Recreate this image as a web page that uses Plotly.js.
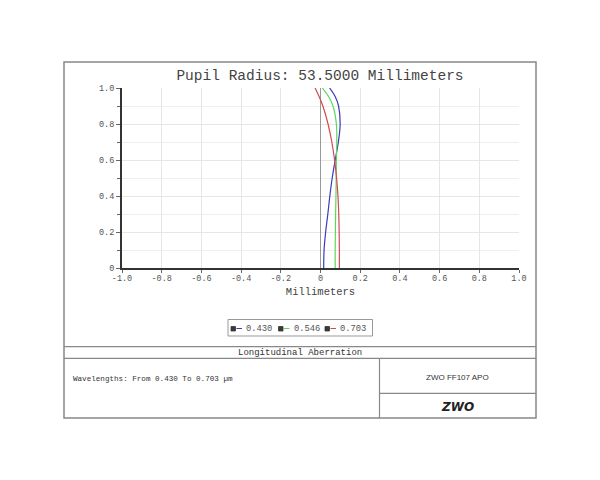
<!DOCTYPE html>
<html>
<head>
<meta charset="utf-8">
<script src="https://cdn.plot.ly/plotly-3.0.1.min.js"></script>
<style>html,body{margin:0;padding:0;background:#fff;}#chart{width:600px;height:480px;}</style>
</head>
<body>
<div id="chart"></div>
<script>
// Relative pupil height (y) and longitudinal aberration in mm (x) per wavelength
const pupil = [0, 0.1, 0.2, 0.3, 0.4, 0.5, 0.6, 0.7, 0.8, 0.9, 0.95, 1.0];
const ab430 = [0.016, 0.018, 0.026, 0.037, 0.047, 0.059, 0.074, 0.090, 0.099, 0.091, 0.075, 0.046];
const ab546 = [0.074, 0.074, 0.075, 0.076, 0.078, 0.079, 0.080, 0.082, 0.080, 0.063, 0.042, 0.009];
const ab703 = [0.095, 0.095, 0.094, 0.092, 0.088, 0.081, 0.071, 0.057, 0.038, 0.012, -0.006, -0.027];
const seriesNames = ['0.430', '0.546', '0.703'];
const seriesColors = ['#3a3ab8', '#5ed65e', '#d24a4a'];
const xTickVals = [-1, -0.8, -0.6, -0.4, -0.2, 0, 0.2, 0.4, 0.6, 0.8, 1.0];
const xTickText = ['-1.0', '-0.8', '-0.6', '-0.4', '-0.2', '0', '0.2', '0.4', '0.6', '0.8', '1.0'];
const yTickVals = [0, 0.2, 0.4, 0.6, 0.8, 1.0];
const yTickText = ['0', '0.2', '0.4', '0.6', '0.8', '1.0'];

const mono = 'Liberation Mono, Courier New, monospace';
const grey = '#555';
const W = 600, H = 480;
const px = v => v / W;
const py = v => 1 - v / H;

const allAb = [ab430, ab546, ab703];
const traces = allAb.map((ab, i) => ({
  x: ab, y: pupil, type: 'scatter', mode: 'lines',
  name: seriesNames[i], showlegend: false,
  line: {color: seriesColors[i], width: 1.2, shape: 'spline'}
}));

const shapes = [
  {type: 'rect', xref: 'paper', yref: 'paper', x0: px(64), x1: px(536), y0: py(418), y1: py(62), line: {color: '#888', width: 1.5}},
  {type: 'line', xref: 'paper', yref: 'paper', x0: px(64), x1: px(536), y0: py(346.7), y1: py(346.7), line: {color: '#888', width: 1.2}},
  {type: 'line', xref: 'paper', yref: 'paper', x0: px(64), x1: px(536), y0: py(358.3), y1: py(358.3), line: {color: '#888', width: 1.2}},
  {type: 'line', xref: 'paper', yref: 'paper', x0: px(379.5), x1: px(379.5), y0: py(358.3), y1: py(418), line: {color: '#888', width: 1.2}},
  {type: 'line', xref: 'paper', yref: 'paper', x0: px(379.5), x1: px(536), y0: py(393.3), y1: py(393.3), line: {color: '#888', width: 1.2}},
  // legend box
  {type: 'rect', xref: 'paper', yref: 'paper', x0: px(228), x1: px(372.5), y0: py(336), y1: py(319.5), line: {color: '#999', width: 1}}
];
const annotations = [
  {text: 'Longitudinal Aberration', xref: 'paper', yref: 'paper', x: px(300), y: py(352.5), xanchor: 'center', yanchor: 'middle', showarrow: false,
   font: {family: mono, size: 9, color: '#333'}},
  {text: 'Wavelengths: From 0.430 To 0.703 µm', xref: 'paper', yref: 'paper', x: px(71), y: py(378.5), xanchor: 'left', yanchor: 'middle', showarrow: false,
   font: {family: mono, size: 7.6, color: '#333'}},
  {text: 'ZWO FF107 APO', xref: 'paper', yref: 'paper', x: px(457), y: py(377), xanchor: 'center', yanchor: 'middle', showarrow: false,
   font: {family: 'Liberation Sans Narrow, Liberation Sans, Arial, sans-serif', size: 8, color: '#333'}},
  {text: '<b><i>ZWO</i></b>', xref: 'paper', yref: 'paper', x: px(457), y: py(407), xanchor: 'center', yanchor: 'middle', showarrow: false,
   font: {family: 'DejaVu Sans, sans-serif', size: 12, color: '#222'}}
];
// custom legend entries
const legStart = [231, 278.5, 325];
const legY = 328.5;
seriesNames.forEach((nm, i) => {
  const x0 = legStart[i];
  shapes.push({type: 'rect', xref: 'paper', yref: 'paper', x0: px(x0), x1: px(x0 + 4.5), y0: py(legY + 2.5), y1: py(legY - 2),
               line: {color: '#333', width: 0.8}, fillcolor: '#3a3a3a'});
  shapes.push({type: 'line', xref: 'paper', yref: 'paper', x0: px(x0 + 5.5), x1: px(x0 + 11), y0: py(legY), y1: py(legY),
               line: {color: seriesColors[i], width: 1}});
  annotations.push({text: nm, xref: 'paper', yref: 'paper', x: px(x0 + 13), y: py(legY), xanchor: 'left', yanchor: 'middle', showarrow: false,
                    font: {family: mono, size: 8.8, color: grey}});
});

const layout = {
  width: W, height: H,
  margin: {l: 0, r: 0, t: 0, b: 0},
  paper_bgcolor: '#fff', plot_bgcolor: '#fff',
  font: {family: mono, color: grey, size: 9},
  title: {text: 'Pupil Radius: 53.5000 Millimeters', x: px(320), y: py(75), xanchor: 'center', yanchor: 'middle',
          font: {family: mono, size: 14.5, color: '#444'}},
  showlegend: false,
  xaxis: {
    domain: [px(122), px(519)], range: [-1, 1], fixedrange: true,
    tickvals: xTickVals, ticktext: xTickText, ticks: 'outside', ticklen: 3, tickcolor: '#666',
    ticklabelstandoff: -2,
    tickfont: {family: mono, size: 8.5, color: grey},
    showgrid: true, gridcolor: '#e6e6e6', gridwidth: 1,
    zeroline: true, zerolinecolor: '#999', zerolinewidth: 1,
    showline: true, linecolor: '#333', linewidth: 2,
    title: {text: 'Millimeters', standoff: 4, font: {family: mono, size: 10.5, color: '#444'}},
    automargin: false
  },
  yaxis: {
    domain: [py(268), py(88)], range: [0, 1], fixedrange: true,
    tickvals: yTickVals, ticktext: yTickText, ticks: 'outside', ticklen: 4, tickcolor: '#666',
    tickfont: {family: mono, size: 8.5, color: grey},
    showgrid: true, gridcolor: '#e6e6e6', gridwidth: 1,
    minor: {dtick: 0.1, ticks: 'outside', ticklen: 3, tickcolor: '#666', showgrid: true, gridcolor: '#eeeeee'},
    zeroline: false,
    showline: true, linecolor: '#333', linewidth: 2,
    automargin: false
  },
  shapes: shapes,
  annotations: annotations
};

Plotly.newPlot('chart', traces, layout, {displayModeBar: false, staticPlot: true});
</script>
</body>
</html>
